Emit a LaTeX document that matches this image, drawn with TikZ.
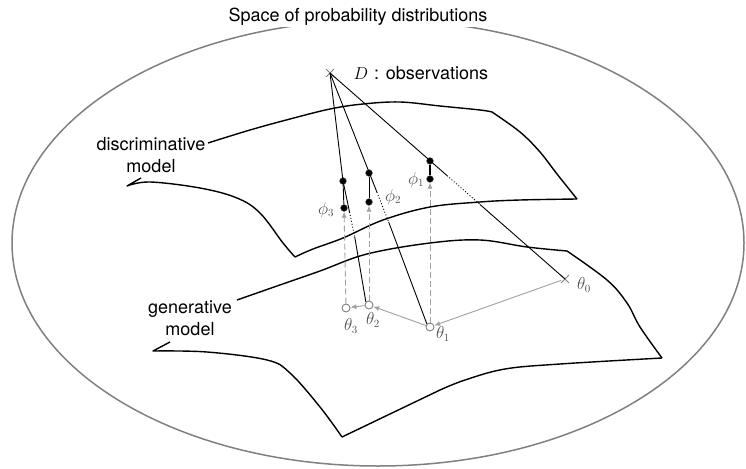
\documentclass[tikz,border=0pt]{standalone}
\usepackage{fontspec}
\setmainfont{TeX Gyre Heros}
\usetikzlibrary{arrows.meta,calc,shapes.misc}
\definecolor{ellgray}{HTML}{808080}
\definecolor{arrgray}{HTML}{A0A0A0}
\definecolor{labgray}{HTML}{505050}
\tikzset{
  surf/.style={line width=1.4pt,black,line join=round},
  obsline/.style={line width=0.9pt,black},
  dotline/.style={line width=0.9pt,black,dash pattern=on 1pt off 2pt},
  gsteparrow/.style={arrgray,line width=0.9pt,-{Latex[length=6pt,width=5pt]}},
  projarrow/.style={arrgray,line width=0.9pt,dash pattern=on 6pt off 3pt,-{Latex[length=6pt,width=5pt]}},
  phidot/.style={circle,fill=black,draw=gray,line width=0.4pt,inner sep=0pt,minimum size=7pt},
  thetacirc/.style={circle,fill=white,draw=gray,line width=0.9pt,inner sep=0pt,minimum size=8pt},
  crossmark/.style={cross out,draw=gray,line width=0.8pt,inner sep=0pt,minimum size=7pt},
  sanslab/.style={font=\fontsize{18}{21.6}\selectfont,align=center,inner sep=2pt},
  mathlab/.style={font=\fontsize{16}{18}\selectfont,labgray,inner sep=0pt},
}
\begin{document}
\begin{tikzpicture}[x=1pt,y=-1pt]
\useasboundingbox (0,0) rectangle (746,468);
% ellipse and title
\draw[ellgray,line width=1.5pt] (378,243) ellipse [x radius=366pt, y radius=223pt];
\node[sanslab,fill=white,inner xsep=3pt,inner ysep=1pt,anchor=base] (title) at (358,22) {Space of probability distributions};

% discriminative surface
\draw[surf] plot[smooth,tension=0.6] coordinates {(208,143) (250,130) (290,119) (330,109) (363,104) (400,102) (440,106) (480,110) (492,112)};
\draw[surf] plot[smooth,tension=0.6] coordinates {(492,112) (520,132) (540,152) (557,174) (577,199)};
\draw[surf] plot[smooth,tension=0.6] coordinates {(577,199) (520,200) (480,202) (430,207) (383,220) (343,238) (313,249) (295,257)};
\draw[surf] plot[smooth,tension=0.6] coordinates {(295,257) (283,243) (260,213) (237,198) (200,188) (150,182) (127,186)} -- (141,178);

% generative surface
\draw[surf] plot[smooth,tension=0.6] coordinates {(237,300) (277,286) (320,271) (367,254) (430,243) (480,240) (527,247) (567,251)};
\draw[surf] plot[smooth,tension=0.6] coordinates {(567,251) (607,280) (627,303) (640,327) (662,358)};
\draw[surf] plot[smooth,tension=0.6] coordinates {(662,358) (560,364) (505,369) (465,380) (440,390)} -- (342,437);
\draw[surf] plot[smooth,tension=0.6] coordinates {(342,437) (320,407) (290,373) (267,360) (207,352) (153,351)} -- (170,342);

% labels of surfaces
\node[sanslab] (disc) at (151,155) {discriminative\\model};
\node[sanslab] (gen) at (190,318) {generative\\model};

% points
\node[crossmark] (D) at (330,73) {};
\node[crossmark] (t0) at (565,279) {};
\node[thetacirc] (t1) at (430,327) {};
\node[thetacirc] (t2) at (369,305) {};
\node[thetacirc] (t3) at (346,308) {};
\node[phidot] (p1a) at (430,161) {};
\node[phidot] (p1b) at (430,179) {};
\node[phidot] (p2a) at (369,173) {};
\node[phidot] (p2b) at (369,202) {};
\node[phidot] (p3a) at (343,181) {};
\node[phidot] (p3b) at (344,208) {};

% observation label
\node[font=\fontsize{16}{18}\selectfont,anchor=base,inner sep=0pt] (Dlab) at (361,80) {$D$};
\node[sanslab,anchor=base west,inner sep=0pt] (obs) at (374,80) {: observations};

% lines from D
\coordinate (l1a) at ($(D.center)!0.498!(t0.center)$);
\coordinate (l1b) at ($(D.center)!0.638!(t0.center)$);
\draw[obsline] (D.center) -- (l1a);
\draw[dotline] (l1a) -- (l1b);
\draw[obsline] (l1b) -- (t0.center);

\coordinate (l2a) at ($(D.center)!0.469!(t1.center)$);
\coordinate (l2b) at ($(D.center)!0.587!(t1.center)$);
\draw[obsline] (D.center) -- (l2a);
\draw[dotline] (l2a) -- (l2b);
\draw[obsline] (l2b) -- (t1.north west);

\coordinate (l3a) at ($(p3a.center)!0.25!(t2.center)$);
\coordinate (l3b) at ($(p3a.center)!0.45!(t2.center)$);
\draw[obsline] (D.center) -- (p3a.center) -- (l3a);
\draw[dotline] (l3a) -- (l3b);
\draw[obsline] (l3b) -- (t2.north west);

% connectors between phi pairs
\draw[line width=1.2pt] (p1a) -- (p1b);
\draw[line width=0.9pt] (p2a) -- (p2b);
\draw[line width=0.9pt] (p3a) -- (p3b);

% gradient steps
\draw[gsteparrow] (t0) -- (t1);
\draw[gsteparrow] (t1) -- (t2);
\draw[gsteparrow] (t2) -- (t3);

% projections
\draw[projarrow] (t1) -- (p1b);
\draw[projarrow] (t2) -- (p2b);
\draw[projarrow] (t3) -- (p3b);

% math labels
\node[mathlab] (t0lab) at (584,285) {$\theta_0$};
\node[mathlab] (t1lab) at (443,334) {$\theta_1$};
\node[mathlab] (t2lab) at (373,320) {$\theta_2$};
\node[mathlab] (t3lab) at (351,326) {$\theta_3$};
\node[mathlab] (p1lab) at (416,180) {$\phi_1$};
\node[mathlab] (p2lab) at (393,197) {$\phi_2$};
\node[mathlab] (p3lab) at (326,210) {$\phi_3$};
\end{tikzpicture}
\end{document}
